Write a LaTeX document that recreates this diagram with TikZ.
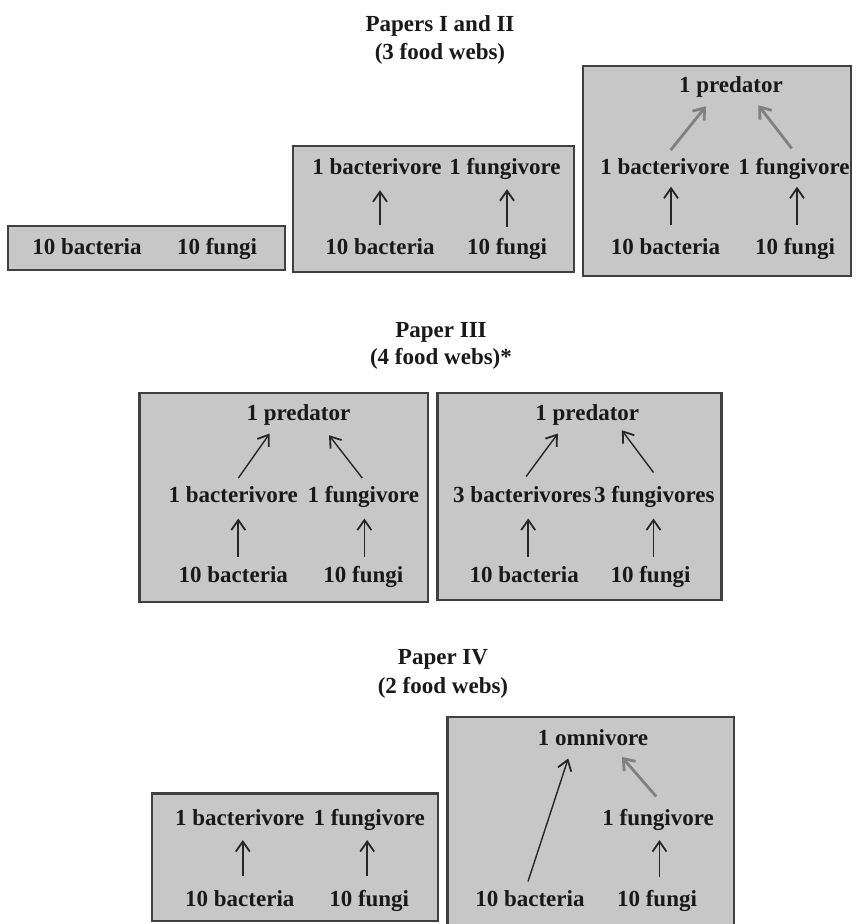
\documentclass[tikz,border=0pt]{standalone}
\usepackage{fontspec}
\setmainfont{Liberation Serif}
\usetikzlibrary{arrows.meta,calc}
\begin{document}
\begin{tikzpicture}[x=1pt,y=-1pt,
  lbl/.style={inner sep=0pt, font=\fontsize{23}{27}\selectfont\bfseries, text=black!90, text height=15pt, text depth=0pt},
  ttl/.style={lbl},
  web/.style={draw=black!75, line width=2.4pt, fill=black!22},
  arr/.style={draw=black!85, line width=1.8pt, -{Straight Barb[length=10pt,width=14pt,line width=1.8pt]}},
  garr/.style={draw=black!50, line width=2.8pt, -{Straight Barb[length=10pt,width=15pt,line width=2.8pt]}},
  thin/.style={arr, line width=1.4pt}
]
\useasboundingbox (0,0) rectangle (856,924);
\clip (0,0) rectangle (856,924);
\fill[white] (0,0) rectangle (856,924);

% ---------- Papers I and II ----------
\node[ttl] (t1a) at (440,24) {Papers I and II};
\node[ttl] (t1b) at (440,52) {(3 food webs)};

\draw[web] (8,226) rectangle (285,270);
\node[lbl] (a1) at (87,247) {10 bacteria};
\node[lbl] (a2) at (217,247) {10 fungi};

\draw[web] (293,146) rectangle (574,272);
\node[lbl] (b3) at (377,167) {1 bacterivore};
\node[lbl] (b4) at (505,167) {1 fungivore};
\node[lbl] (b1) at (380,247) {10 bacteria};
\node[lbl] (b2) at (507,247) {10 fungi};
\draw[arr] ($(b1.north)+(0,-14)$) -- ($(b1.north |- b3.south)+(0,15.5)$);
\draw[arr] ($(b2.north)+(0,-12.5)$) -- ($(b2.north |- b4.south)+(0,14.5)$);

\draw[web] (583,66) rectangle (851,276);
\node[lbl] (c5) at (731,85) {1 predator};
\node[lbl] (c3) at (665,167) {1 bacterivore};
\node[lbl] (c4) at (794,167) {1 fungivore};
\node[lbl] (c1) at (665.5,247) {10 bacteria};
\node[lbl] (c2) at (795,247) {10 fungi};
\draw[arr] ($(c1.north)+(5.5,-14)$) -- ($(c1.north |- c3.south)+(5.5,12)$);
\draw[arr] ($(c2.north)+(2,-14)$) -- ($(c2.north |- c4.south)+(2,12)$);
\draw[garr] ($(c3.north)+(5.7,-9.2)$) -- ($(c5.south)+(-25,13.5)$);
\draw[garr] ($(c4.north)+(-2.3,-10.9)$) -- ($(c5.south)+(27.3,12.5)$);

% ---------- Paper III ----------
\node[ttl] (t2a) at (441,330) {Paper III};
\node[ttl] (t2b) at (441,357) {(4 food webs)*};

\draw[web] (139.6,392.7) rectangle (427.7,601.7);
\node[lbl] (p1) at (298.4,413.3) {1 predator};
\node[lbl] (p2) at (233.3,495) {1 bacterivore};
\node[lbl] (p3) at (363.4,495) {1 fungivore};
\node[lbl] (p4) at (233.3,575) {10 bacteria};
\node[lbl] (p5) at (363.4,575) {10 fungi};
\draw[arr] ($(p4.north)+(5,-10.8)$) -- ($(p4.north |- p2.south)+(5,15.8)$);
\draw[arr] ($(p5.north)+(1,-10.8)$) -- ($(p5.north |- p3.south)+(1,15.8)$);
\draw[thin] ($(p2.north)+(5,-9.2)$) -- ($(p1.south)+(-28.7,12.5)$);
\draw[thin] ($(p3.north)+(-1.1,-9.2)$) -- ($(p1.south)+(30.6,14.2)$);

\draw[web] (437.3,392.7) rectangle (721.3,600);
\node[lbl] (q1) at (587.3,413) {1 predator};
\node[lbl] (q2) at (522.3,495) {3 bacterivores};
\node[lbl] (q3) at (654.3,495) {3 fungivores};
\node[lbl] (q4) at (524.2,575) {10 bacteria};
\node[lbl] (q5) at (650.5,575) {10 fungi};
\draw[arr] ($(q4.north)+(4,-10.8)$) -- ($(q4.north |- q2.south)+(4,15.8)$);
\draw[arr] ($(q5.north)+(3,-10.8)$) -- ($(q5.north |- q3.south)+(3,15.8)$);
\draw[thin] ($(q2.north)+(3.8,-10.8)$) -- ($(q1.south)+(-29.4,12.8)$);
\draw[thin] ($(q3.north)+(-0.8,-14.8)$) -- ($(q1.south)+(34.5,9.5)$);

% ---------- Paper IV ----------
\node[ttl] (t3a) at (443,657) {Paper IV};
\node[ttl] (t3b) at (443,686) {(2 food webs)};

\draw[web] (152.2,793.3) rectangle (438,921);
\node[lbl] (r1) at (239.8,818.3) {1 bacterivore};
\node[lbl] (r2) at (369.2,818.3) {1 fungivore};
\node[lbl] (r3) at (239.8,899) {10 bacteria};
\node[lbl] (r4) at (369.2,899) {10 fungi};
\draw[arr] ($(r3.north)+(3,-15)$) -- ($(r3.north |- r1.south)+(3,14)$);
\draw[arr] ($(r4.north)+(-2,-15)$) -- ($(r4.north |- r2.south)+(-2,14)$);

\draw[web] (447.6,716.7) rectangle (734,940);
\node[lbl] (s1) at (593,738.3) {1 omnivore};
\node[lbl] (s2) at (658.1,818.3) {1 fungivore};
\node[lbl] (s3) at (529.9,899) {10 bacteria};
\node[lbl] (s4) at (657,899) {10 fungi};
\draw[arr] ($(s4.north)+(2.5,-14)$) -- ($(s4.north |- s2.south)+(2.5,14)$);
\draw[thin] ($(s3.north)+(-1.9,-9.8)$) -- ($(s1.south)+(-24.8,12.5)$);
\draw[garr] ($(s2.north)+(-1.9,-14.1)$) -- ($(s1.south)+(28.8,10.9)$);
\end{tikzpicture}
\end{document}
